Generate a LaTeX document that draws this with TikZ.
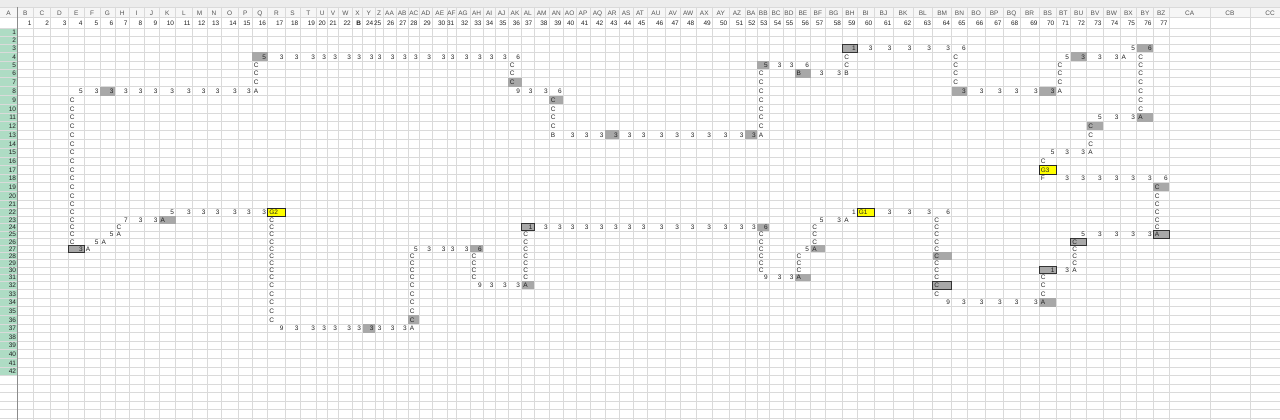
\documentclass[tikz,border=0pt]{standalone}
\usepackage{fontspec}
\setmainfont{Liberation Sans}
\definecolor{gridc}{HTML}{DADADA}
\definecolor{hdrgreen}{HTML}{AEDCC4}
\definecolor{boxgray}{HTML}{A8A8A8}
\definecolor{txt}{HTML}{222222}
\definecolor{hdrtxt}{HTML}{555555}
\definecolor{topband}{HTML}{ECECEC}
\definecolor{hdrbg}{HTML}{F6F6F6}
\definecolor{cellyellow}{HTML}{FFFF00}
% column left edges (index k = left edge of column k)
\foreach \v [count=\i] in {17.3,33.3,50.7,68.3,84.3,100,115,129.3,144,159,175.7,192.3,207,221,238.3,252.3,267.7,285,300,316.7,327.5,338.5,352.5,362.7,375,383,396,408.3,419.3,432.5,447,456,470,483.3,495,508.3,521.7,534,549.3,563.3,576,590,605,619.3,633,647,665,680.5,696,712.5,729,745,757.3,769.3,783,795,810.7,825,842.7,857.3,874,893,913,932.7,951.7,967.3,985,1003.3,1020,1039.3,1056,1070.7,1086.7,1103.3,1120,1136.7,1153.3,1169.3,1210,1250,1290}{\expandafter\xdef\csname cl\i\endcsname{\v}}
% row centres
\foreach \v [count=\i] in {32.3,40.3,48.3,56.7,65,73.5,82,91.5,100,108.7,117.3,126,134.7,143.7,152.3,161.3,169.7,178.3,187,195.7,204,212.3,220,227.3,234.3,241.7,248.7,256,263.3,270.3,277.3,285,293.7,302.5,311,319.7,328.5,337,345.5,354,362.7,371.5,380,388.5,397,405.5,414,422.5}{\expandafter\xdef\csname rc\i\endcsname{\v}}
% row boundaries (bottom of row r)
\foreach \v [count=\i from 0] in {28.2,36.3,44.3,52.5,60.85,69.25,77.75,86.75,95.75,104.35,113,121.65,130.35,139.2,148,156.8,165.5,174,182.65,191.35,199.85,208.15,216.15,223.65,230.8,238,245.2,252.35,259.65,266.8,273.8,281.15,289.35,298.1,306.75,315.35,324.1,332.75,341.25,349.75,358.35,367.1,375.75,384.25,392.75,401.25,409.75,418.25}{\expandafter\xdef\csname rb\i\endcsname{\v}}
\newcommand\colL[1]{\csname cl#1\endcsname}
\newcommand\colR[1]{\csname cl\the\numexpr#1+1\relax\endcsname}
\newcommand\rowT[1]{\csname rb\the\numexpr#1-1\relax\endcsname}
\newcommand\rowB[1]{\csname rb#1\endcsname}
\newcommand\rowC[1]{\csname rc#1\endcsname}
\newcommand\cellR[3]{\edef\tmpx{\colR{#1}}\edef\tmpy{\rowC{#2}}\node[cellR] (n#1-#2) at (\tmpx-1.4,\tmpy) {#3};}
\newcommand\cellL[3]{\edef\tmpx{\colL{#1}}\edef\tmpy{\rowC{#2}}\node[cellL] (n#1-#2) at (\tmpx+1.4,\tmpy) {#3};}
\newcommand\runR[4]{\foreach \cc in {#1,...,#2}{\cellR{\cc}{#3}{#4}}}
\newcommand\vrunL[4]{\foreach \rr in {#2,...,#3}{\cellL{#1}{\rr}{#4}}}
\newcommand\boxAny[3]{\edef\xa{\colL{#1}}\edef\xb{\colR{#1}}\edef\ya{\rowT{#2}}\edef\yb{\rowB{#2}}\path[#3] (\xa,\ya) rectangle (\xb,\yb);}
\newcommand\boxG[2]{\boxAny{#1}{#2}{fill=boxgray}}
\newcommand\boxK[2]{\boxAny{#1}{#2}{fill=boxgray,draw=black!80,line width=0.9pt}}
\newcommand\boxY[2]{\boxAny{#1}{#2}{fill=cellyellow,draw=black!85,line width=0.9pt}}
\begin{document}
\begin{tikzpicture}[x=1pt,y=-1pt,
  cell/.style={font=\fontsize{6.5}{7}\selectfont, text=txt, inner sep=0pt, text height=4.7pt, text depth=0pt},
  cellR/.style={cell,anchor=east},
  cellL/.style={cell,anchor=west},
  hdr/.style={cell,text=hdrtxt},
  gridline/.style={draw=gridc,line width=0.6pt},
  darkline/.style={draw=black!45,line width=0.7pt}]
\useasboundingbox (0,0) rectangle (1280,420);
\fill[white] (0,0) rectangle (1280,420);
\fill[topband] (0,0) rectangle (1280,7);
\fill[hdrbg] (0,7) rectangle (1280,17.8);
\edef\ya{\rowB{0}}\edef\yb{\rowB{42}}
\fill[hdrgreen] (0,\ya) rectangle (17.3,\yb);
% grid
\foreach \i in {1,...,81}{\edef\tx{\colL{\i}}\draw[gridline] (\tx,7) -- (\tx,420);}
\foreach \r in {0,...,47}{\edef\ty{\rowB{\r}}\draw[gridline] (0,\ty) -- (1280,\ty);}
\draw[gridline] (0,7) -- (1280,7);
\draw[gridline] (0,17.8) -- (1280,17.8);
\draw[darkline] (17.3,7) -- (17.3,420);
% header letters
\node[hdr,anchor=center] (hA) at (8.6,12.8) {A};
\foreach \t [count=\i] in {B,C,D,E,F,G,H,I,J,K,L,M,N,O,P,Q,R,S,T,U,V,W,X,Y,Z,AA,AB,AC,AD,AE,AF,AG,AH,AI,AJ,AK,AL,AM,AN,AO,AP,AQ,AR,AS,AT,AU,AV,AW,AX,AY,AZ,BA,BB,BC,BD,BE,BF,BG,BH,BI,BJ,BK,BL,BM,BN,BO,BP,BQ,BR,BS,BT,BU,BV,BW,BX,BY,BZ,CA,CB,CC}{%
  \edef\xa{\colL{\i}}\edef\xb{\colR{\i}}\pgfmathsetmacro\tx{(\xa+\xb)/2}
  \node[hdr,anchor=center] (h\i) at (\tx,12.8) {\t};}
% header numbers
\foreach \i in {1,...,77}{%
  \edef\xb{\colR{\i}}\pgfmathsetmacro\tx{\xb-1.5}
  \ifnum\i=23 \node[cell,anchor=east,font=\fontsize{6.5}{7}\selectfont\bfseries] (num\i) at (\tx,23) {B};
  \else \node[cell,anchor=east] (num\i) at (\tx,23) {\i};\fi}
% row numbers
\foreach \r in {1,...,42}{\edef\ty{\rowC{\r}}\node[cell,anchor=east] (rn\r) at (16.2,\ty) {\r};}
% ---- cells ----
% row 3
\boxK{59}{3}\cellR{59}{3}{1}\runR{60}{64}{3}{3}\cellR{65}{3}{6}
\cellR{75}{3}{5}\boxG{76}{3}\cellR{76}{3}{6}
% row 4
\boxG{16}{4}\cellR{16}{4}{5}\runR{17}{35}{4}{3}\cellR{36}{4}{6}
\cellR{71}{4}{5}\boxG{72}{4}\cellR{72}{4}{3}\runR{73}{74}{4}{3}\cellL{75}{4}{A}
% vertical C runs top part
\vrunL{16}{5}{7}{C}
\vrunL{36}{5}{6}{C}\boxG{36}{7}\cellL{36}{7}{C}
\vrunL{59}{4}{5}{C}
\vrunL{65}{4}{7}{C}
\vrunL{71}{5}{7}{C}
\vrunL{76}{4}{10}{C}
% row 5-6
\boxG{53}{5}\cellR{53}{5}{5}\runR{54}{55}{5}{3}\cellR{56}{5}{6}
\boxG{56}{6}\cellL{56}{6}{B}\runR{57}{58}{6}{3}\cellL{59}{6}{B}
\vrunL{53}{6}{12}{C}
% row 8
\cellR{4}{8}{5}\cellR{5}{8}{3}\boxG{6}{8}\cellR{6}{8}{3}\runR{7}{15}{8}{3}\cellL{16}{8}{A}
\cellR{36}{8}{9}\runR{37}{38}{8}{3}\cellR{39}{8}{6}
\boxG{65}{8}\cellR{65}{8}{3}\runR{66}{69}{8}{3}\boxG{70}{8}\cellR{70}{8}{3}\cellL{71}{8}{A}
% col 4
\vrunL{4}{9}{26}{C}
% col 39
\boxG{39}{9}\cellL{39}{9}{C}\vrunL{39}{10}{12}{C}
% row 11-15 right
\cellR{73}{11}{5}\runR{74}{75}{11}{3}\boxG{76}{11}\cellL{76}{11}{A}
\boxG{73}{12}\cellL{73}{12}{C}\vrunL{73}{13}{14}{C}
% row 13
\cellL{39}{13}{B}\runR{40}{42}{13}{3}\boxG{43}{13}\cellR{43}{13}{3}\runR{44}{51}{13}{3}\boxG{52}{13}\cellR{52}{13}{3}\cellL{53}{13}{A}
% rows 15-19
\cellR{70}{15}{5}\runR{71}{72}{15}{3}\cellL{73}{15}{A}
\cellL{70}{16}{C}
\boxY{70}{17}\cellL{70}{17}{G3}
\cellL{70}{18}{F}\runR{71}{76}{18}{3}\cellR{77}{18}{6}
\boxG{77}{19}\cellL{77}{19}{C}\vrunL{77}{20}{24}{C}
% row 22
\cellR{10}{22}{5}\runR{11}{16}{22}{3}\boxY{17}{22}\cellL{17}{22}{G2}
\cellR{59}{22}{1}\boxY{60}{22}\cellL{60}{22}{G1}\runR{61}{63}{22}{3}\cellR{64}{22}{6}
% row 23
\cellR{7}{23}{7}\runR{8}{9}{23}{3}\boxG{10}{23}\cellL{10}{23}{A}
\vrunL{17}{23}{36}{C}
\cellR{57}{23}{5}\cellR{58}{23}{3}\cellL{59}{23}{A}
\vrunL{64}{23}{27}{C}
% row 24
\cellL{7}{24}{C}
\boxK{37}{24}\cellR{37}{24}{1}\runR{38}{52}{24}{3}\boxG{53}{24}\cellR{53}{24}{6}
\vrunL{57}{24}{26}{C}
% row 25
\cellR{6}{25}{5}\cellL{7}{25}{A}
\vrunL{37}{25}{31}{C}
\vrunL{53}{25}{30}{C}
\cellR{72}{25}{5}\runR{73}{76}{25}{3}\boxK{77}{25}\cellL{77}{25}{A}
% row 26
\cellR{5}{26}{5}\cellL{6}{26}{A}
\boxK{72}{26}\cellL{72}{26}{C}\vrunL{72}{27}{29}{C}
% row 27
\boxK{4}{27}\cellR{4}{27}{3}\cellL{5}{27}{A}
\cellR{28}{27}{5}\runR{29}{32}{27}{3}\boxG{33}{27}\cellR{33}{27}{6}
\cellR{56}{27}{5}\boxG{57}{27}\cellL{57}{27}{A}
% rows 28+
\vrunL{28}{28}{35}{C}\boxG{28}{36}\cellL{28}{36}{C}
\vrunL{33}{28}{31}{C}
\vrunL{56}{28}{30}{C}
\boxG{64}{28}\cellL{64}{28}{C}\vrunL{64}{29}{31}{C}
\boxK{70}{30}\cellR{70}{30}{1}\cellR{71}{30}{3}\cellL{72}{30}{A}
\vrunL{70}{31}{33}{C}
\cellR{53}{31}{9}\runR{54}{55}{31}{3}\boxG{56}{31}\cellL{56}{31}{A}
\cellR{33}{32}{9}\runR{34}{36}{32}{3}\boxG{37}{32}\cellL{37}{32}{A}
\boxK{64}{32}\cellL{64}{32}{C}\cellL{64}{33}{C}
\cellR{64}{34}{9}\runR{65}{69}{34}{3}\boxG{70}{34}\cellL{70}{34}{A}
\cellR{17}{37}{9}\runR{18}{23}{37}{3}\boxG{24}{37}\cellR{24}{37}{3}\runR{25}{27}{37}{3}\cellL{28}{37}{A}
\end{tikzpicture}
\end{document}
